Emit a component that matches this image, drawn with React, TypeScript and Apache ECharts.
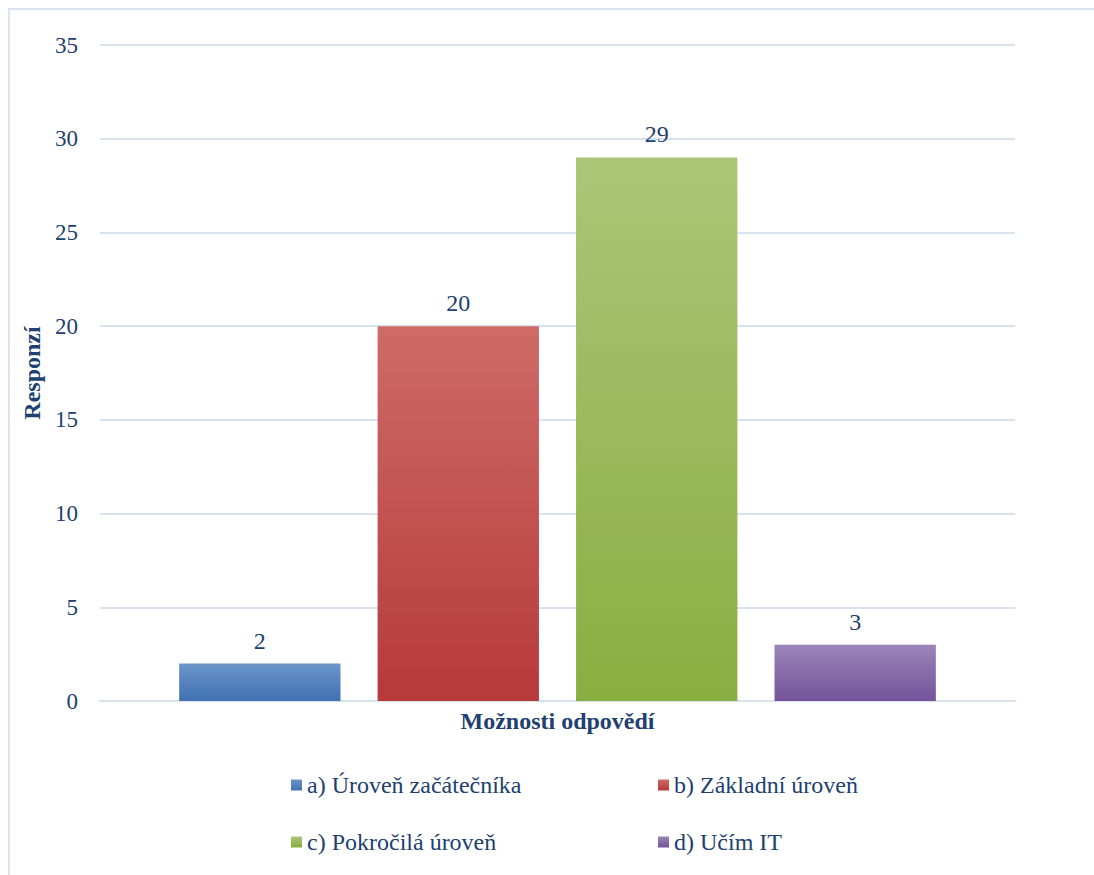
import React, { useEffect, useRef } from "react";
import * as echarts from "echarts";

const categories = ["Možnosti odpovědí"];
const seriesNames = [
  "a) Úroveň začátečníka",
  "b) Základní úroveň",
  "c) Pokročilá úroveň",
  "d) Učím IT",
];
const seriesValues = [2, 20, 29, 3];
const topColors = ["#6c94ca", "#cd6b67", "#aac677", "#9b84ba"];
const bottomColors = ["#3f71b3", "#b7393a", "#8aae41", "#74539a"];
const yTicks = [0, 5, 10, 15, 20, 25, 30, 35];

const FONT = "Liberation Serif, Tinos, Times New Roman, serif";
const TEXT = "#213f6f";
const GRID = "#d8e3f2";
const FS = 24;

export default function App() {
  const ref = useRef<HTMLDivElement>(null);
  useEffect(() => {
    if (!ref.current) return;
    const chart = echarts.init(ref.current, undefined, { renderer: "svg" });
    const legendPos = [
      { left: 276, top: 758 },
      { left: 643, top: 758 },
      { left: 276, top: 815 },
      { left: 643, top: 815 },
    ];
    chart.setOption({
      animation: false,
      textStyle: { fontFamily: FONT },
      grid: { left: 90, right: 79, top: 35, bottom: 174 },
      legend: seriesNames.map((n, i) => ({
        data: [n],
        left: legendPos[i].left,
        top: legendPos[i].top,
        itemWidth: 11,
        itemHeight: 11,
        itemGap: 5,
        icon: "rect",
        textStyle: { fontFamily: FONT, fontSize: FS, color: TEXT },
      })),
      xAxis: {
        type: "category",
        data: categories,
        name: "Možnosti odpovědí",
        nameLocation: "middle",
        nameGap: 8,
        nameTextStyle: {
          fontFamily: FONT,
          fontSize: FS,
          fontWeight: "bold",
          color: TEXT,
          verticalAlign: "top",
        },
        axisLabel: { show: false },
        axisTick: { show: false },
        axisLine: { show: true, lineStyle: { color: GRID, width: 2 } },
      },
      yAxis: {
        type: "value",
        min: yTicks[0],
        max: yTicks[yTicks.length - 1],
        interval: 5,
        name: "Responzí",
        nameLocation: "middle",
        nameGap: 53,
        nameRotate: 90,
        nameTextStyle: { fontFamily: FONT, fontSize: FS, fontWeight: "bold", color: TEXT },
        axisLabel: { fontFamily: FONT, fontSize: 23, color: TEXT, margin: 22 },
        axisLine: { show: false },
        axisTick: { show: false },
        splitLine: { lineStyle: { color: GRID, width: 2 } },
      },
      series: seriesNames.map((n, i) => ({
        type: "bar",
        name: n,
        data: [seriesValues[i]],
        barGap: "23%",
        barCategoryGap: "17.3%",
        itemStyle: {
          color: new echarts.graphic.LinearGradient(0, 0, 0, 1, [
            { offset: 0, color: topColors[i] },
            { offset: 1, color: bottomColors[i] },
          ]),
        },
        label: {
          show: true,
          position: "top",
          distance: 11,
          fontFamily: FONT,
          fontSize: FS,
          color: TEXT,
        },
      })),
    });
    return () => chart.dispose();
  }, []);
  return (
    <div
      style={{
        position: "absolute",
        left: 8,
        top: 8,
        borderLeft: "2px solid #d9e4f3",
        borderTop: "2px solid #d9e4f3",
        width: 1084,
        height: 865,
      }}
    >
      <div ref={ref} style={{ width: 1084, height: 865 }} />
    </div>
  );
}
